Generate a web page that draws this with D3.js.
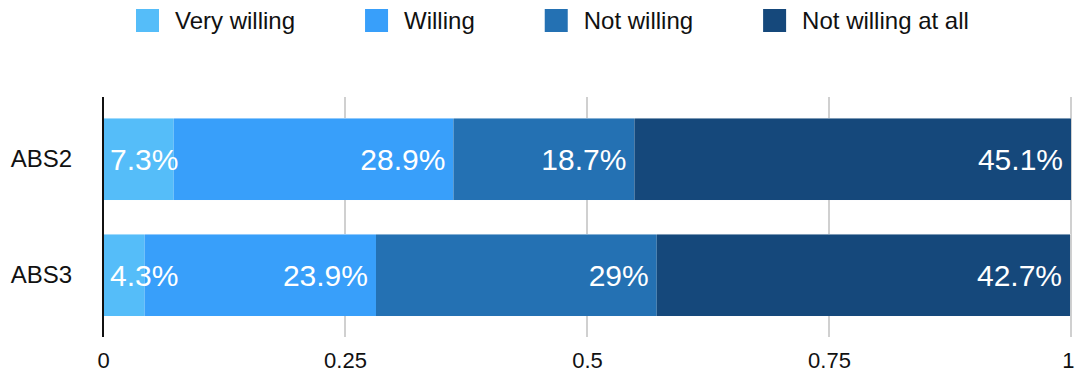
<!DOCTYPE html>
<html>
<head>
<meta charset="utf-8">
<script src="https://cdn.jsdelivr.net/npm/d3@7"></script>
<style>
  html, body { margin: 0; padding: 0; background: #fff; }
  svg { display: block; font-family: "Liberation Sans", Arial, Helvetica, sans-serif; }
</style>
</head>
<body>
<svg id="chart" width="1075" height="373"></svg>
<script>
// Survey waves shown as rows
const categories = ["ABS2", "ABS3"];
// Response options, in stacking order
const seriesNames = ["Very willing", "Willing", "Not willing", "Not willing at all"];
// Shares (percent) for each wave, one array per response option
const veryWilling = [7.3, 4.3];
const willing = [28.9, 23.9];
const notWilling = [18.7, 29];
const notWillingAtAll = [45.1, 42.7];
const tickValues = [0, 0.25, 0.5, 0.75, 1];
const tickLabels = ["0", "0.25", "0.5", "0.75", "1"];

const colors = ["#55bdf9", "#389ffa", "#2471b3", "#15487b"];

const rows = categories.map((c, i) => ({
  category: c,
  "Very willing": veryWilling[i],
  "Willing": willing[i],
  "Not willing": notWilling[i],
  "Not willing at all": notWillingAtAll[i]
}));

const svg = d3.select("#chart");
const x = d3.scaleLinear().domain([0, 1]).range([103, 1071]);
const y = d3.scaleBand().domain(categories).range([97, 337]).paddingInner(0.293).paddingOuter(0.181);
const color = d3.scaleOrdinal().domain(seriesNames).range(colors);

// gridlines
svg.append("g")
  .selectAll("line")
  .data(tickValues.filter(t => t > 0))
  .join("line")
  .attr("x1", d => x(d)).attr("x2", d => x(d))
  .attr("y1", 97).attr("y2", 337)
  .attr("stroke", "#d0d0d0")
  .attr("stroke-width", 2);

// tick labels along the bottom
const xAxis = d3.axisBottom(x).tickValues(tickValues).tickFormat((d, i) => tickLabels[i]).tickSize(0).tickPadding(0);
const gx = svg.append("g").attr("transform", "translate(0,352)").call(xAxis);
gx.select(".domain").remove();
gx.selectAll("text")
  .attr("font-size", 22)
  .attr("fill", "#111")
  .attr("dy", "0.71em")
  .style("font-family", "'Liberation Sans', Arial, sans-serif");
// keep the last label inside the frame
gx.selectAll(".tick").filter(d => d === 1).select("text")
  .attr("text-anchor", "end")
  .attr("dx", 3);

// stacked bars (values are percentages)
const stack = d3.stack().keys(seriesNames).value((d, k) => d[k] / 100);
const layers = stack(rows);

const segments = layers.flatMap(layer => layer.map(p => ({ p, key: layer.key })));

svg.append("g")
  .selectAll("rect")
  .data(segments)
  .join("rect")
  .attr("x", d => x(d.p[0]))
  .attr("y", d => y(d.p.data.category))
  .attr("width", d => x(d.p[1]) - x(d.p[0]))
  .attr("height", y.bandwidth())
  .attr("fill", d => color(d.key));

// light top edge on each bar
svg.append("g")
  .selectAll("line")
  .data(categories)
  .join("line")
  .attr("x1", x(0)).attr("x2", x(1))
  .attr("y1", d => y(d) + 0.5).attr("y2", d => y(d) + 0.5)
  .attr("stroke", "#ffffff")
  .attr("stroke-opacity", 0.45)
  .attr("stroke-width", 1);

// value labels: right-aligned inside a segment, or starting at its left edge when too narrow
const labels = svg.append("g")
  .selectAll("text")
  .data(segments)
  .join("text")
  .attr("y", d => y(d.p.data.category) + y.bandwidth() / 2 + 11)
  .attr("font-size", 30)
  .attr("fill", "#fff")
  .text(d => d.p.data[d.key] + "%");

labels.each(function (d) {
  const w = this.getComputedTextLength();
  const segW = x(d.p[1]) - x(d.p[0]);
  const t = d3.select(this);
  if (w + 14 <= segW) {
    t.attr("x", x(d.p[1]) - 8).attr("text-anchor", "end");
  } else {
    t.attr("x", x(d.p[0]) + 7).attr("text-anchor", "start");
  }
});

// category axis
const yAxis = d3.axisLeft(y).tickSize(0).tickPadding(31);
const gy = svg.append("g").attr("transform", `translate(${x(0)},0)`).call(yAxis);
gy.select(".domain").remove();
gy.selectAll("text")
  .attr("font-size", 24)
  .attr("fill", "#111")
  .attr("dy", "0.35em")
  .style("font-family", "'Liberation Sans', Arial, sans-serif");

svg.append("line")
  .attr("x1", x(0)).attr("x2", x(0))
  .attr("y1", 97).attr("y2", 337)
  .attr("stroke", "#111")
  .attr("stroke-width", 2);

// legend
const legend = svg.append("g");
let lx = 136;
seriesNames.forEach((name, i) => {
  const item = legend.append("g").attr("transform", `translate(${lx},0)`);
  item.append("rect")
    .attr("x", 0).attr("y", 9)
    .attr("width", 23).attr("height", 23)
    .attr("fill", color(name));
  const t = item.append("text")
    .attr("x", 39).attr("y", 29)
    .attr("font-size", 24)
    .attr("fill", "#111")
    .text(name);
  lx += 39 + t.node().getComputedTextLength() + 70;
});
</script>
</body>
</html>
